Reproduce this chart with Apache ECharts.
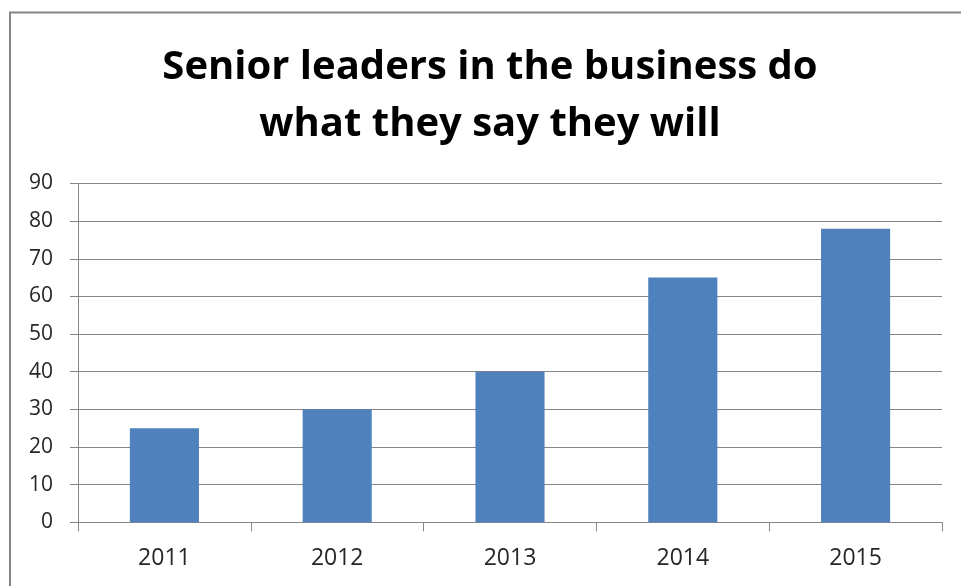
<!DOCTYPE html>
<html>
<head>
<meta charset="utf-8">
<script src="https://cdn.jsdelivr.net/npm/echarts@6/dist/echarts.min.js"></script>
<style>
  html, body { margin: 0; padding: 0; background: #ffffff; }
  #chart { width: 961px; height: 586px; }
</style>
</head>
<body>
<div id="chart"></div>
<script>
// Survey result by year
const years = ['2011', '2012', '2013', '2014', '2015'];
const agreePct = [25, 30, 40, 65, 78];
const chartTitle = 'Senior leaders in the business do\nwhat they say they will';

const chart = echarts.init(document.getElementById('chart'));
const fontFamily = '"Open Sans", Lato, "Noto Sans", sans-serif';

chart.setOption({
  animation: false,
  backgroundColor: '#ffffff',
  graphic: [{
    type: 'rect',
    shape: { x: 10, y: 12.5, width: 960, height: 600 },
    style: { fill: 'none', stroke: '#868686', lineWidth: 2 },
    z: 0
  }],
  title: {
    text: chartTitle,
    left: 485,
    textAlign: 'center',
    top: 34,
    textStyle: {
      fontFamily: fontFamily,
      fontWeight: 'bold',
      fontSize: 40,
      lineHeight: 57,
      color: '#000000'
    }
  },
  grid: { left: 78, right: 19, top: 183.5, bottom: 63.7, containLabel: false },
  xAxis: {
    type: 'category',
    data: years,
    axisLine: { lineStyle: { color: '#868686', width: 1 } },
    axisTick: { show: true, length: 9, alignWithLabel: false, lineStyle: { color: '#868686' } },
    axisLabel: { fontFamily: fontFamily, fontSize: 23, color: '#262626', margin: 25 }
  },
  yAxis: {
    type: 'value',
    min: 0,
    max: 90,
    interval: 10,
    axisLine: { show: true, lineStyle: { color: '#868686' } },
    axisTick: { show: true, length: 8, lineStyle: { color: '#868686' } },
    splitLine: { lineStyle: { color: '#868686', width: 1 } },
    axisLabel: { fontFamily: fontFamily, fontSize: 21, color: '#262626', margin: 25 }
  },
  series: [{
    type: 'bar',
    data: agreePct,
    barWidth: '40%',
    itemStyle: { color: '#4F81BD' }
  }]
});
</script>
</body>
</html>
